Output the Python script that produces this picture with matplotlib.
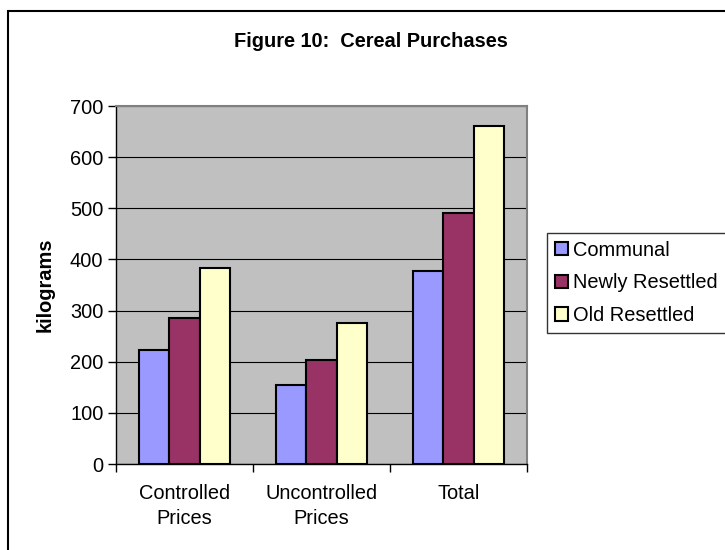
import matplotlib
matplotlib.use("Agg")
import matplotlib.pyplot as plt
import numpy as np
from matplotlib.patches import Rectangle, Patch

# Cereal purchases by settlement type (kg)
categories = ["Controlled\nPrices", "Uncontrolled\nPrices", "Total"]
series_names = ["Communal", "Newly Resettled", "Old Resettled"]
communal = [222, 154, 377]
newly_resettled = [286, 203, 490]
old_resettled = [384, 276, 661]
series_colors = ["#9999FF", "#993366", "#FFFFCC"]
y_ticks = [0, 100, 200, 300, 400, 500, 600, 700]

plt.rcParams["font.family"] = ["Liberation Sans", "DejaVu Sans"]
FS = 14.4

W, H = 725, 550
fig = plt.figure(figsize=(W / 100, H / 100), dpi=100)
ax = fig.add_axes([116 / W, 1 - 464 / H, (527 - 116) / W, (464 - 106) / H])
ax.set_facecolor("#C0C0C0")

x = np.arange(len(categories))
width = 1 / 4.5
for i, (vals, col, name) in enumerate(zip([communal, newly_resettled, old_resettled],
                                          series_colors, series_names)):
    ax.bar(x + (i - 1) * width, vals, width, color=col, edgecolor="black",
           linewidth=1.5, label=name, zorder=3)

ax.set_xlim(-0.5, 2.5)
ax.set_ylim(0, 700)
ax.set_yticks(y_ticks)
ax.yaxis.grid(True, color="black", linewidth=0.8, zorder=1)
ax.set_axisbelow(True)
ax.tick_params(axis="y", direction="out", length=6, width=1, labelsize=FS, pad=3)

# category boundaries get the tick marks, labels sit on minor ticks
ax.set_xticks([-0.5, 0.5, 1.5, 2.5])
ax.set_xticklabels([])
ax.tick_params(axis="x", which="major", direction="out", length=6, width=1)
ax.set_xticks(x, minor=True)
ax.set_xticklabels(categories, minor=True, fontsize=FS, linespacing=1.4)
ax.tick_params(axis="x", which="minor", length=0, pad=14.5)

for side in ["left", "bottom"]:
    ax.spines[side].set_color("black")
    ax.spines[side].set_linewidth(1)
for side in ["top", "right"]:
    ax.spines[side].set_color("#808080")
    ax.spines[side].set_linewidth(1.5)

fig.text(370.5 / W, 1 - 46.7 / H, "Figure 10:  Cereal Purchases", ha="center",
         va="baseline", fontsize=FS, fontweight="bold")
fig.text(45 / W, 1 - 285 / H, "kilograms", ha="center", va="center",
         rotation=90, fontsize=FS, fontweight="bold")

handles = [Patch(facecolor=c, edgecolor="black", linewidth=1.5) for c in series_colors]
leg = fig.legend(handles, series_names, loc="upper left",
                 bbox_to_anchor=(546.7 / W, 1 - 238.3 / H, 190 / W, 0.01),
                 mode="expand", fontsize=FS, frameon=True, fancybox=False,
                 handlelength=0.65, handleheight=0.65, handletextpad=0.25,
                 labelspacing=0.68, borderpad=0.4, borderaxespad=0)
leg.get_frame().set_edgecolor("black")
leg.get_frame().set_linewidth(1)

# outer chart border
fig.patches.append(Rectangle((8 / W, -0.05), 1.1, 1 - 11 / H + 0.05,
                             transform=fig.transFigure, fill=False,
                             edgecolor="black", linewidth=1.5))

fig.savefig("out.png", dpi=100)
